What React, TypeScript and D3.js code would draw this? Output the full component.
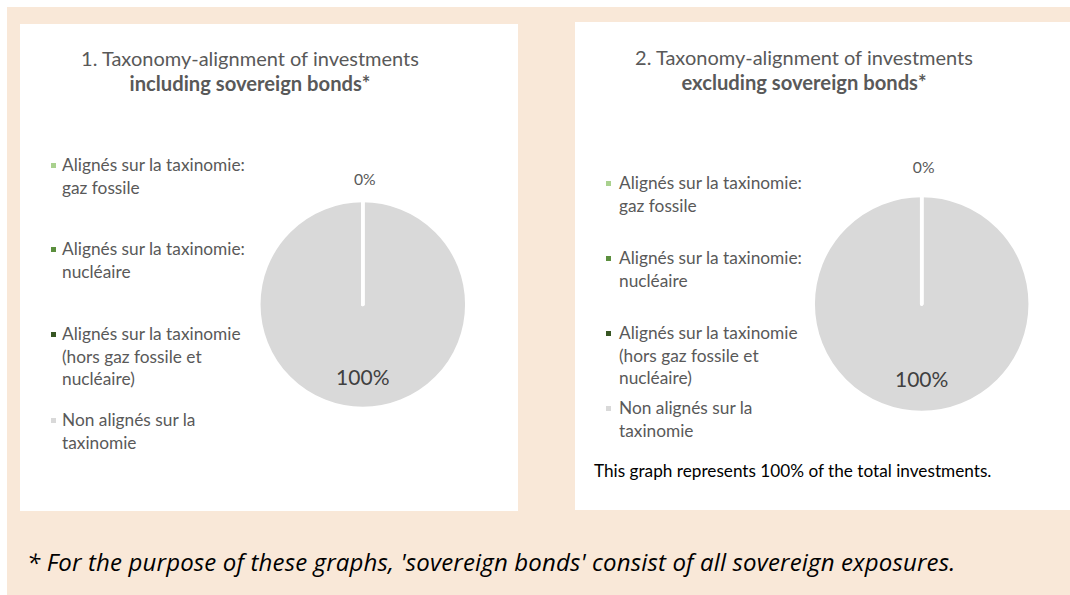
import React from "react";
import * as d3 from "d3";

// ---------- data ----------
const categories = [
  "Alignés sur la taxinomie: gaz fossile",
  "Alignés sur la taxinomie: nucléaire",
  "Alignés sur la taxinomie (hors gaz fossile et nucléaire)",
  "Non alignés sur la taxinomie",
];
const legendLines = [
  ["Alignés sur la taxinomie:", "gaz fossile"],
  ["Alignés sur la taxinomie:", "nucléaire"],
  ["Alignés sur la taxinomie", "(hors gaz fossile et", "nucléaire)"],
  ["Non alignés sur la", "taxinomie"],
];
const valuesIncluding = [0, 0, 0, 100];
const valuesExcluding = [0, 0, 0, 100];
const sliceColors = ["#A9D18E", "#5B8F3E", "#375623", "#D9D9D9"];
const titleLine1 = ["1. Taxonomy-alignment of investments", "2. Taxonomy-alignment of investments"];
const titleLine2 = ["including sovereign bonds*", "excluding sovereign bonds*"];
const noteText = "This graph represents 100% of the total investments.";
const footnote = "* For the purpose of these graphs, 'sovereign bonds' consist of all sovereign exposures.";

const FONT = "Lato, 'Open Sans', sans-serif";
const GREY = "#595959";

type PanelCfg = {
  x: number; y: number; w: number; h: number;
  titleX: number; titleY: number;
  cx: number; cy: number; r: number; outerLabelGap: number;
  legendSqX: number; legendTextX: number; legendBaselines: number[];
};

const panels: PanelCfg[] = [
  {
    x: 20, y: 24, w: 498, h: 487,
    titleX: 250, titleY: 66,
    cx: 362.8, cy: 304.5, r: 104, outerLabelGap: 21,
    legendSqX: 51, legendTextX: 62, legendBaselines: [171, 255, 340, 426],
  },
  {
    x: 575, y: 22, w: 495, h: 488,
    titleX: 804, titleY: 65,
    cx: 921.7, cy: 304, r: 108.5, outerLabelGap: 28,
    legendSqX: 606, legendTextX: 619, legendBaselines: [189, 264, 339, 414],
  },
];

function Pie({ values, cfg }: { values: number[]; cfg: PanelCfg }) {
  const pie = d3.pie<number>().sort(null).value((d) => d);
  const arcs = pie(values);
  const arc = d3.arc<d3.PieArcDatum<number>>().innerRadius(0).outerRadius(cfg.r);
  const total = d3.sum(values);
  const fmt = (v: number) => `${Math.round((v / total) * 100)}%`;
  // draw zero-width slices last so their white border stays visible
  const drawOrder = arcs.map((a, i) => i).sort((a, b) => values[b] - values[a]);
  const seen = new Set<string>();
  const labels = arcs
    .map((a, i) => {
      const mid = (a.startAngle + a.endAngle) / 2;
      const share = values[i] / total;
      const inside = share > 0.05;
      const rr = inside ? cfg.r * 0.7 : cfg.r + cfg.outerLabelGap;
      const x = Math.sin(mid) * rr + (inside ? 0 : 2);
      const y = -Math.cos(mid) * rr;
      return { i, x, y, inside, text: fmt(values[i]) };
    })
    .filter((l) => {
      const k = `${l.x.toFixed(1)}|${l.y.toFixed(1)}|${l.text}`;
      if (seen.has(k)) return false;
      seen.add(k);
      return true;
    });
  return (
    <g transform={`translate(${cfg.cx},${cfg.cy})`}>
      {drawOrder.map((i) => (
        <path
          key={i}
          d={arc(arcs[i]) || ""}
          fill={sliceColors[i]}
          stroke="#FFFFFF"
          strokeWidth={3.5}
          strokeLinejoin="round"
        />
      ))}
      {labels.map((l) => (
        <text
          key={l.i}
          x={l.x}
          y={l.y}
          dy="0.35em"
          textAnchor="middle"
          fontFamily={FONT}
          fontSize={l.inside ? 21 : 15.7}
          fill={l.inside ? "#404040" : GREY}
        >
          {l.text}
        </text>
      ))}
    </g>
  );
}

function Legend({ cfg }: { cfg: PanelCfg }) {
  return (
    <g>
      {categories.map((c, i) => (
        <g key={c}>
          <rect
            x={cfg.legendSqX}
            y={cfg.legendBaselines[i] - 8}
            width={5}
            height={5}
            fill={sliceColors[i]}
          />
          <text fontFamily={FONT} fontSize={17.3} fill={GREY}>
            {legendLines[i].map((ln, j) => (
              <tspan key={j} x={cfg.legendTextX} y={cfg.legendBaselines[i] + j * 22.5}>
                {ln}
              </tspan>
            ))}
          </text>
        </g>
      ))}
    </g>
  );
}

export default function App() {
  const data = [valuesIncluding, valuesExcluding];
  return (
    <svg
      width={1070}
      height={595}
      style={{ position: "absolute", left: 0, top: 0, display: "block" }}
    >
      <rect x={0} y={0} width={1070} height={595} fill="#FFFFFF" />
      <rect x={7} y={7} width={1063} height={588} fill="#F9E8D8" />
      {panels.map((p, k) => (
        <g key={k}>
          <rect x={p.x} y={p.y} width={p.w} height={p.h} fill="#FFFFFF" />
          <text x={p.titleX} y={p.titleY} textAnchor="middle" fontFamily={FONT} fontSize={20} fill={GREY}>
            {titleLine1[k]}
          </text>
          <text
            x={p.titleX}
            y={p.titleY + 25}
            textAnchor="middle"
            fontFamily={FONT}
            fontSize={20.2}
            fontWeight="bold"
            fill={GREY}
          >
            {titleLine2[k]}
          </text>
          <Legend cfg={p} />
          <Pie values={data[k]} cfg={p} />
        </g>
      ))}
      <text x={594} y={477} fontFamily={FONT} fontSize={17.2} fill="#000000">
        {noteText}
      </text>
      <text
        x={27}
        y={571}
        fontFamily="'Open Sans', sans-serif"
        fontStyle="italic"
        fontSize={24}
        letterSpacing={0.15}
        fill="#000000"
      >
        {footnote}
      </text>
    </svg>
  );
}
